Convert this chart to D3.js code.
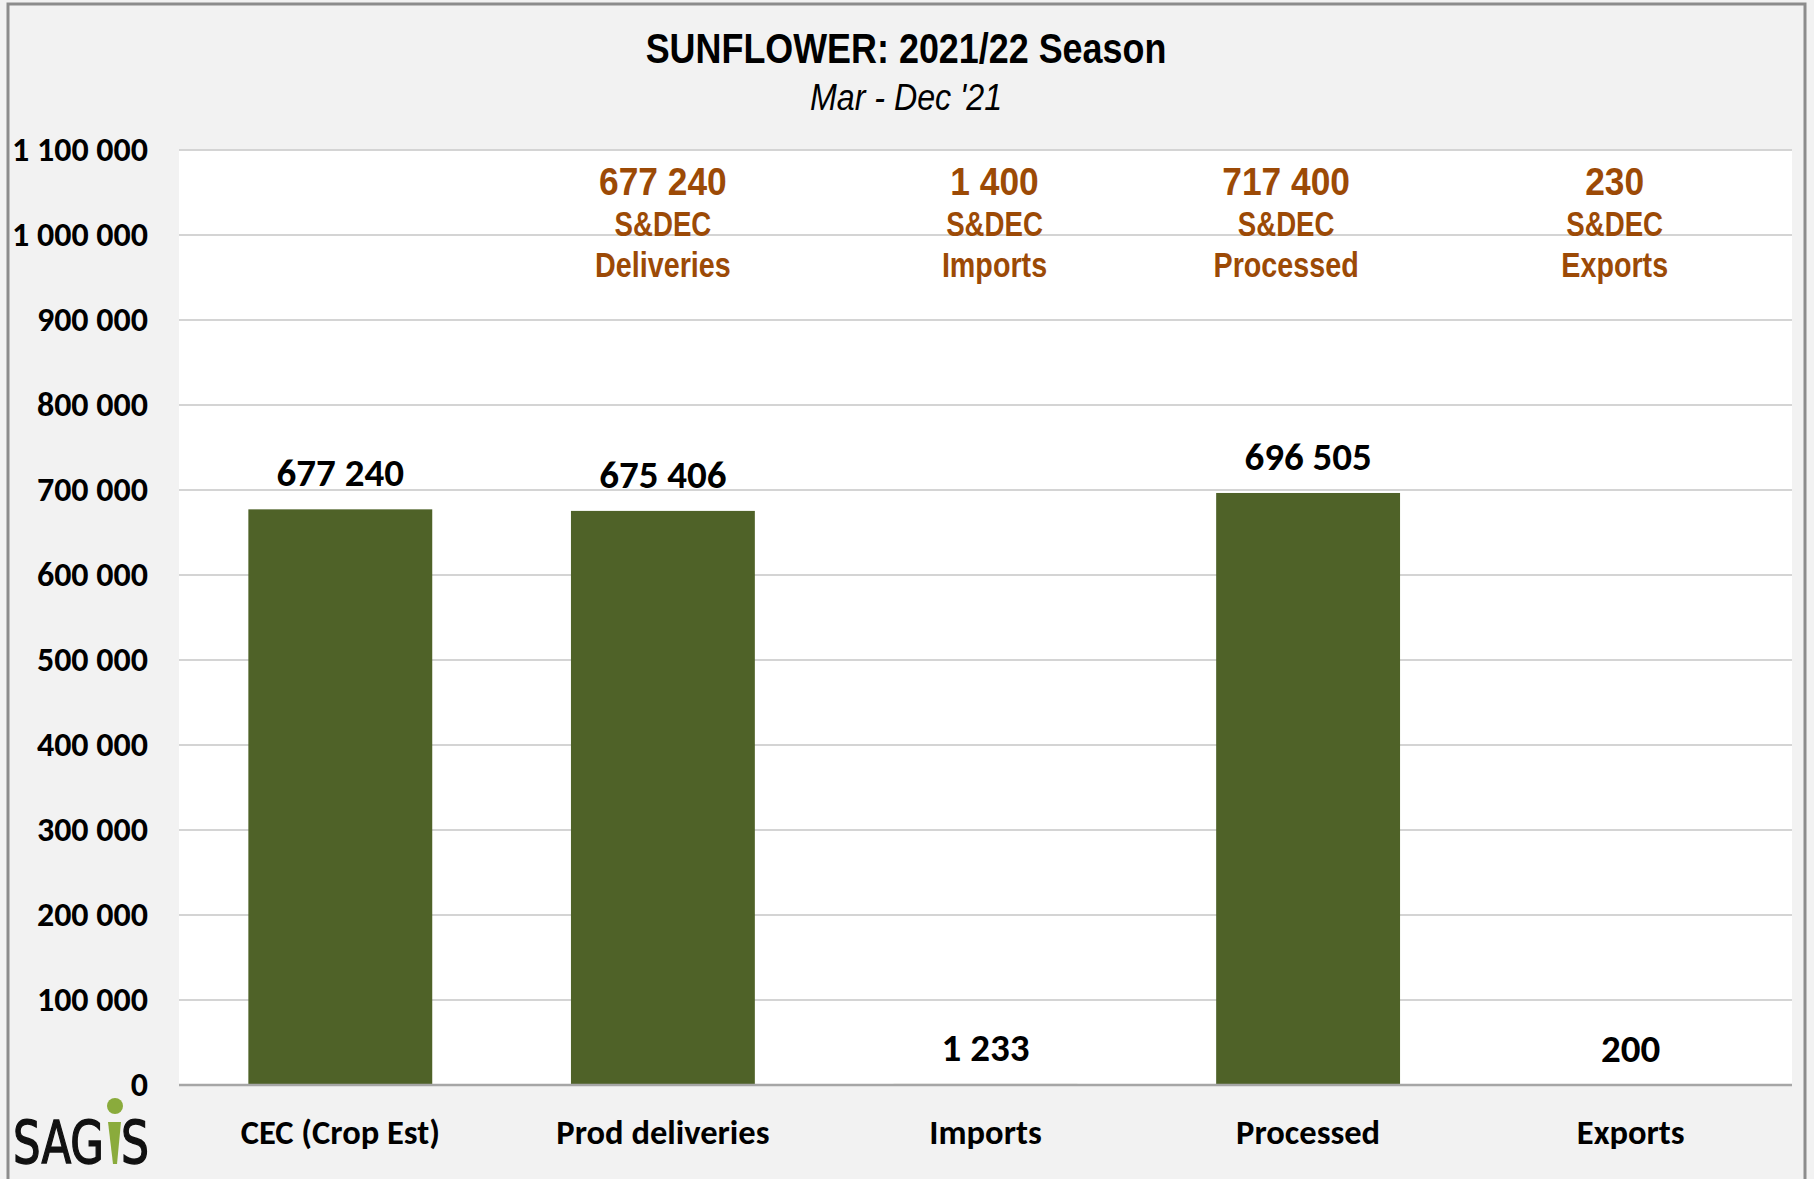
<!DOCTYPE html>
<html>
<head>
<meta charset="utf-8">
<script src="https://cdn.jsdelivr.net/npm/d3@7"></script>
<style>
  body { margin: 0; background: #f2f2f2; }
  svg { display: block; }
</style>
</head>
<body>
<svg></svg>
<script>
// chart data
var categories = ['CEC (Crop Est)', 'Prod deliveries', 'Imports', 'Processed', 'Exports'];
var values = [677240, 675406, 1233, 696505, 200];
var yTicks = [0, 100000, 200000, 300000, 400000, 500000, 600000, 700000, 800000, 900000, 1000000, 1100000];

// S&DEC notes above the bars
var noteCategories = ['Prod deliveries', 'Imports', 'Processed', 'Exports'];
var noteValues = [677240, 1400, 717400, 230];
var noteNames = ['Deliveries', 'Imports', 'Processed', 'Exports'];
var noteShift = [0, 9, -22, -16];

var WIDTH = 1814;
var HEIGHT = 1179;
var plotLeft = 179, plotRight = 1792, plotTop = 150, plotBottom = 1085;
var NARROW = '"Liberation Sans Narrow", "Arial Narrow", "Liberation Sans", Arial, sans-serif';
var CALIBRI = 'Carlito, Calibri, Lato, sans-serif';

var fmt = function(v){
  return d3.format(',')(v).replace(/,/g, ' ');
};

var svg = d3.select('svg')
  .attr('width', WIDTH)
  .attr('height', HEIGHT);

svg.append('rect')
  .attr('x', 0).attr('y', 0)
  .attr('width', WIDTH).attr('height', HEIGHT)
  .attr('fill', '#f2f2f2');

// chart frame
svg.append('rect')
  .attr('x', 8).attr('y', 4)
  .attr('width', 1797).attr('height', 1200)
  .attr('fill', 'none')
  .attr('stroke', '#8c8c8c')
  .attr('stroke-width', 3);

var yScale = d3.scaleLinear().domain([0, 1100000]).range([plotBottom, plotTop]);
var xScale = d3.scaleBand().domain(categories).range([plotLeft, plotRight])
  .paddingInner(0.43).paddingOuter(0.215);

svg.append('rect')
  .attr('x', plotLeft).attr('y', plotTop)
  .attr('width', plotRight - plotLeft).attr('height', plotBottom - plotTop)
  .attr('fill', '#ffffff');

// gridlines
svg.append('g')
  .selectAll('line')
  .data(yTicks.filter(function(d){ return d > 0; }))
  .enter()
  .append('line')
  .attr('x1', plotLeft).attr('x2', plotRight)
  .attr('y1', function(d){ return yScale(d); })
  .attr('y2', function(d){ return yScale(d); })
  .attr('stroke', '#d4d4d4')
  .attr('stroke-width', 2);

// y axis labels
var leftAxis = d3.axisLeft(yScale).tickValues(yTicks).tickFormat(fmt).tickSize(0).tickPadding(0);
var yAxis = svg.append('g')
  .attr('transform', 'translate(148,0)')
  .call(leftAxis);
yAxis.select('.domain').remove();
yAxis.selectAll('text')
  .attr('font-family', CALIBRI)
  .attr('font-weight', 'bold')
  .attr('font-size', 34)
  .attr('fill', '#000');

// bars
svg.append('g')
  .selectAll('rect')
  .data(values)
  .enter()
  .append('rect')
  .attr('x', function(d, i){ return xScale(categories[i]); })
  .attr('y', function(d){ return yScale(d); })
  .attr('width', xScale.bandwidth())
  .attr('height', function(d){ return plotBottom - yScale(d); })
  .attr('fill', '#4f6228');

// baseline
svg.append('line')
  .attr('x1', plotLeft).attr('x2', plotRight)
  .attr('y1', plotBottom).attr('y2', plotBottom)
  .attr('stroke', '#a6a6a6')
  .attr('stroke-width', 2.5);

// bar value labels
svg.append('g')
  .selectAll('text')
  .data(values)
  .enter()
  .append('text')
  .attr('x', function(d, i){ return xScale(categories[i]) + xScale.bandwidth() / 2; })
  .attr('y', function(d){ return yScale(d) - 23; })
  .attr('text-anchor', 'middle')
  .attr('font-family', CALIBRI)
  .attr('font-weight', 'bold')
  .attr('font-size', 39)
  .attr('fill', '#000')
  .text(fmt);

// category labels
var botAxis = d3.axisBottom(xScale).tickSize(0).tickPadding(0);
var xAxis = svg.append('g')
  .attr('transform', 'translate(0,1144)')
  .call(botAxis);
xAxis.select('.domain').remove();
xAxis.selectAll('text')
  .attr('dy', 0)
  .attr('font-family', CALIBRI)
  .attr('font-weight', 'bold')
  .attr('font-size', 34.5)
  .attr('fill', '#000');

// narrow text: regular sans squeezed sideways
var narrowText = function(x, y, size, sx){
  return svg.append('text')
    .attr('transform', 'translate(' + x + ',' + y + ') scale(' + sx + ',1)')
    .attr('text-anchor', 'middle')
    .attr('font-family', NARROW)
    .attr('font-size', size);
};

// S&DEC notes
noteValues.forEach(function(v, i){
  var cx = xScale(noteCategories[i]) + xScale.bandwidth() / 2 + noteShift[i];
  narrowText(cx, 195, 38, 0.93).attr('font-weight', 'bold').attr('fill', '#9c4a06').text(fmt(v));
  narrowText(cx, 236, 35, 0.79).attr('font-weight', 'bold').attr('fill', '#9c4a06').text('S&DEC');
  narrowText(cx, 277, 35, 0.82).attr('font-weight', 'bold').attr('fill', '#9c4a06').text(noteNames[i]);
});

// title
narrowText(906, 63, 42, 0.855).attr('font-weight', 'bold').attr('fill', '#000')
  .text('SUNFLOWER: 2021/22 Season');
narrowText(906, 110, 37, 0.87).attr('font-style', 'italic').attr('fill', '#000')
  .text("Mar - Dec '21");

// SAGIS logo: black letters, green tapered I with a dot
var logo = svg.append('g')
  .attr('font-family', '"DejaVu Sans", sans-serif')
  .attr('font-size', 58)
  .attr('stroke-width', 1.5);
logo.append('circle')
  .attr('cx', 115).attr('cy', 1106).attr('r', 8)
  .attr('fill', '#8aab3c');
logo.append('path')
  .attr('d', 'M108,1122 L121,1122 L117,1164 L113,1164 Z')
  .attr('fill', '#8aab3c');
logo.append('text')
  .attr('x', 13).attr('y', 1163)
  .attr('textLength', 91)
  .attr('lengthAdjust', 'spacingAndGlyphs')
  .attr('fill', '#111').attr('stroke', '#111')
  .text('SAG');
logo.append('text')
  .attr('x', 121).attr('y', 1163)
  .attr('textLength', 28)
  .attr('lengthAdjust', 'spacingAndGlyphs')
  .attr('fill', '#111').attr('stroke', '#111')
  .text('S');
</script>
</body>
</html>
